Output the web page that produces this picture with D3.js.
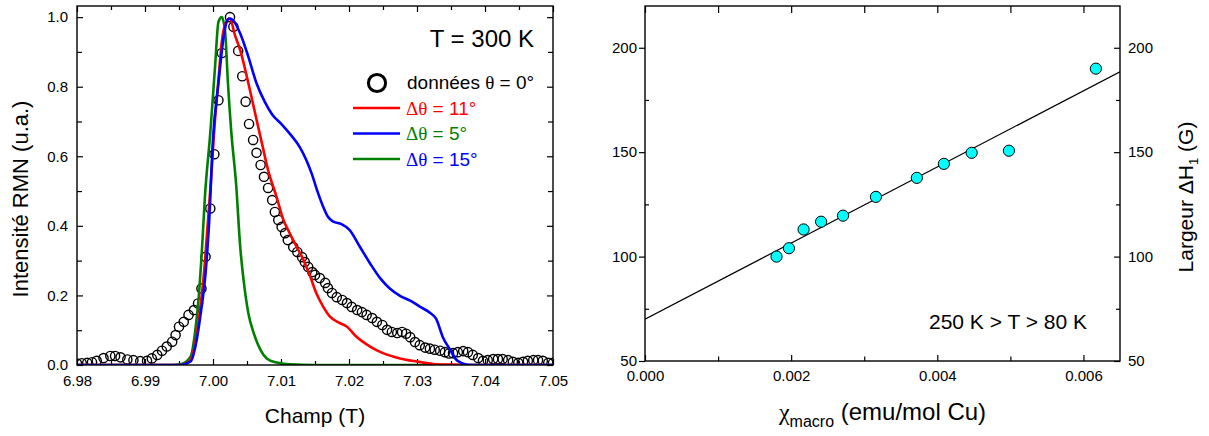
<!DOCTYPE html>
<html>
<head>
<meta charset="utf-8">
<script src="https://cdn.jsdelivr.net/npm/d3@7"></script>
<style>
  html, body { margin: 0; padding: 0; background: #fff; }
  svg { display: block; }
  text { font-family: "Liberation Sans", Arial, sans-serif; fill: #000; }
</style>
</head>
<body>
<script>
// ---------------- DATA (left panel: NMR spectrum at T = 300 K) ----------------
const fieldTicks = [6.98, 6.99, 7.00, 7.01, 7.02, 7.03, 7.04, 7.05];
const fieldMinorTicks = [6.985, 6.995, 7.005, 7.015, 7.025, 7.035, 7.045];
const intensityTicks = [0, 0.2, 0.4, 0.6, 0.8, 1.0];
const intensityMinorTicks = [0.1, 0.3, 0.5, 0.7, 0.9];

const dataField = [6.9800,6.9807,6.9815,6.9822,6.9829,6.9839,6.9849,6.9856,6.9864,6.9874,6.9883,6.9893,6.9903,6.9910,6.9918,6.9925,6.9932,6.9940,6.9945,6.9950,6.9957,6.9964,6.9972,6.9978,6.9983,6.9989,6.9996,7.0002,7.0008,7.0013,7.0025,7.0030,7.0037,7.0043,7.0048,7.0053,7.0059,7.0064,7.0070,7.0075,7.0081,7.0087,7.0091,7.0096,7.0101,7.0106,7.0110,7.0118,7.0124,7.0131,7.0135,7.0140,7.0146,7.0150,7.0157,7.0165,7.0169,7.0175,7.0182,7.0190,7.0197,7.0204,7.0212,7.0219,7.0226,7.0234,7.0241,7.0249,7.0256,7.0263,7.0271,7.0278,7.0284,7.0290,7.0297,7.0304,7.0312,7.0319,7.0326,7.0334,7.0341,7.0347,7.0353,7.0360,7.0368,7.0375,7.0382,7.0390,7.0397,7.0404,7.0412,7.0419,7.0426,7.0434,7.0441,7.0449,7.0456,7.0463,7.0471,7.0478,7.0485,7.0493,7.0500];
const dataIntensity = [0.004,0.005,0.006,0.008,0.012,0.020,0.026,0.026,0.022,0.016,0.014,0.011,0.012,0.019,0.029,0.041,0.053,0.067,0.086,0.110,0.124,0.144,0.158,0.177,0.220,0.311,0.450,0.606,0.761,0.897,1.000,0.972,0.903,0.830,0.757,0.693,0.647,0.610,0.575,0.541,0.509,0.474,0.440,0.417,0.397,0.379,0.359,0.339,0.325,0.310,0.296,0.282,0.267,0.259,0.250,0.236,0.221,0.207,0.195,0.187,0.178,0.167,0.158,0.152,0.144,0.135,0.124,0.115,0.101,0.095,0.092,0.095,0.090,0.080,0.066,0.057,0.050,0.047,0.044,0.041,0.037,0.033,0.034,0.037,0.040,0.037,0.029,0.020,0.012,0.014,0.017,0.017,0.017,0.014,0.009,0.006,0.009,0.012,0.014,0.014,0.012,0.006,0.006];

const redField = [6.9800,6.9951,6.9965,6.9975,6.9981,6.9987,6.9992,6.9997,7.0002,7.0008,7.0013,7.0019,7.0025,7.0032,7.0040,7.0052,7.0062,7.0072,7.0081,7.0094,7.0103,7.0113,7.0123,7.0133,7.0143,7.0152,7.0162,7.0172,7.0187,7.0197,7.0211,7.0231,7.0250,7.0275,7.0300,7.0324,7.0349,7.0378,7.0500];
const redIntensity = [0,0,0.010,0.075,0.16,0.27,0.40,0.53,0.68,0.82,0.93,0.985,0.996,0.95,0.905,0.81,0.723,0.637,0.56,0.48,0.42,0.378,0.34,0.302,0.254,0.206,0.168,0.139,0.12,0.11,0.081,0.053,0.034,0.019,0.01,0.003,0.001,0,0];

const blueField = [6.9800,6.9951,6.9967,6.9976,6.9982,6.9989,6.9994,7.0000,7.0008,7.0015,7.0020,7.0024,7.0030,7.0040,7.0052,7.0064,7.0076,7.0087,7.0101,7.0115,7.0128,7.0137,7.0145,7.0154,7.0162,7.0169,7.0177,7.0189,7.0201,7.0216,7.0231,7.0246,7.0260,7.0275,7.0290,7.0304,7.0319,7.0328,7.0338,7.0349,7.0356,7.0366,7.0378,7.0500];
const blueIntensity = [0,0,0.010,0.072,0.149,0.263,0.40,0.65,0.81,0.934,0.986,0.996,0.99,0.953,0.886,0.81,0.757,0.72,0.692,0.66,0.625,0.59,0.551,0.497,0.455,0.426,0.412,0.405,0.388,0.34,0.292,0.249,0.22,0.199,0.185,0.168,0.150,0.133,0.08,0.043,0.019,0.005,0,0];

const greenField = [6.9800,6.9940,6.9952,6.9967,6.9974,6.9979,6.9984,6.9988,6.9996,7.0003,7.0008,7.0013,7.0018,7.0022,7.0027,7.0034,7.0040,7.0045,7.0052,7.0060,7.0070,7.0079,7.0094,7.0113,7.0150,7.0500];
const greenIntensity = [0,0,0.002,0.024,0.10,0.196,0.34,0.48,0.667,0.857,0.986,1.0,0.953,0.81,0.667,0.52,0.34,0.244,0.149,0.091,0.043,0.019,0.007,0.002,0,0];

// ---------------- DATA (right panel: linewidth vs chi) ----------------
const chiTicks = [0, 0.002, 0.004, 0.006];
const chiMinorTicks = [0.001, 0.003, 0.005];
const widthTicks = [50, 100, 150, 200];
const widthMinorTicks = [75, 125, 175];

const chiValues = [0.00180, 0.00197, 0.00217, 0.00241, 0.00271, 0.00316, 0.00372, 0.00409, 0.00447, 0.00498, 0.00617];
const widthValues = [100, 104, 113, 116.7, 119.6, 128.6, 137.7, 144.4, 149.7, 150.7, 190];
const fitChi = [0, 0.0065];
const fitWidth = [70, 188.5];

// ---------------- LAYOUT ----------------
const W = 1209, H = 436;
const svg = d3.select("body").append("svg").attr("width", W).attr("height", H);

const L = { left: 77, right: 553, top: 6, bottom: 365 };
const R = { left: 645, right: 1120, top: 6, bottom: 361 };

const xL = d3.scaleLinear().domain([6.98, 7.05]).range([L.left, L.right]);
const yL = d3.scaleLinear().domain([0, 1.032]).range([L.bottom, L.top]);
const xR = d3.scaleLinear().domain([0, 0.0065]).range([R.left, R.right]);
const yR = d3.scaleLinear().domain([50, 220]).range([R.bottom, R.top]);

const tickFont = 15;

function styleAxis(g) {
  g.select(".domain").remove();
  g.selectAll(".tick line").attr("stroke", "#000").attr("stroke-width", 1.2);
  g.selectAll(".tick text").attr("font-size", tickFont).attr("fill", "#000")
    .attr("font-family", '"Liberation Sans", Arial, sans-serif');
}

// ---------- LEFT PANEL ----------
const gL = svg.append("g");
gL.append("defs").append("clipPath").attr("id", "clipL").append("rect")
  .attr("x", L.left).attr("y", L.top).attr("width", L.right - L.left).attr("height", L.bottom - L.top);

// axes
gL.append("g").attr("transform", `translate(0,${L.bottom})`)
  .call(d3.axisBottom(xL).tickValues(fieldTicks).tickSize(-6).tickPadding(10).tickFormat(d3.format(".2f"))).call(styleAxis);
gL.append("g").attr("transform", `translate(0,${L.bottom})`)
  .call(d3.axisBottom(xL).tickValues(fieldMinorTicks).tickSize(-4).tickFormat("")).call(styleAxis);
gL.append("g").attr("transform", `translate(0,${L.top})`)
  .call(d3.axisTop(xL).tickValues(fieldTicks).tickSize(-6).tickFormat("")).call(styleAxis);
gL.append("g").attr("transform", `translate(0,${L.top})`)
  .call(d3.axisTop(xL).tickValues(fieldMinorTicks).tickSize(-4).tickFormat("")).call(styleAxis);
gL.append("g").attr("transform", `translate(${L.left},0)`)
  .call(d3.axisLeft(yL).tickValues(intensityTicks).tickSize(-6).tickPadding(9).tickFormat(d3.format(".1f"))).call(styleAxis);
gL.append("g").attr("transform", `translate(${L.left},0)`)
  .call(d3.axisLeft(yL).tickValues(intensityMinorTicks).tickSize(-5).tickFormat("")).call(styleAxis);
gL.append("g").attr("transform", `translate(${L.right},0)`)
  .call(d3.axisRight(yL).tickValues(intensityTicks).tickSize(-6).tickFormat("")).call(styleAxis);
gL.append("g").attr("transform", `translate(${L.right},0)`)
  .call(d3.axisRight(yL).tickValues(intensityMinorTicks).tickSize(-5).tickFormat("")).call(styleAxis);

const plotL = gL.append("g").attr("clip-path", "url(#clipL)");

// data circles
plotL.append("g").selectAll("circle")
  .data(dataField.map((f, i) => [f, dataIntensity[i]]))
  .join("circle")
  .attr("cx", d => xL(d[0])).attr("cy", d => yL(d[1])).attr("r", 4.6)
  .attr("fill", "none").attr("stroke", "#000").attr("stroke-width", 1.4);

const lineL = d3.line().x(d => xL(d[0])).y(d => yL(d[1])).curve(d3.curveMonotoneX);
const curves = [
  { f: greenField, v: greenIntensity, c: "#008000" },
  { f: redField, v: redIntensity, c: "#ff0000" },
  { f: blueField, v: blueIntensity, c: "#0000ff" }
];
curves.forEach(cv => {
  plotL.append("path").datum(cv.f.map((f, i) => [f, cv.v[i]]))
    .attr("d", lineL).attr("fill", "none").attr("stroke", cv.c).attr("stroke-width", 2.6)
    .attr("stroke-linejoin", "round");
});

gL.append("rect").attr("x", L.left).attr("y", L.top).attr("width", L.right - L.left).attr("height", L.bottom - L.top)
  .attr("fill", "none").attr("stroke", "#000").attr("stroke-width", 1.4);

// annotations / legend
gL.append("text").attr("x", 534).attr("y", 47).attr("text-anchor", "end").attr("font-size", 24).text("T = 300 K");

gL.append("circle").attr("cx", 377).attr("cy", 83).attr("r", 8.6).attr("fill", "none").attr("stroke", "#000").attr("stroke-width", 3);
const t0 = gL.append("text").attr("x", 407).attr("y", 89).attr("font-size", 19);
t0.append("tspan").text("données ");
t0.append("tspan").attr("font-family", '"Liberation Serif", "Times New Roman", serif').text("θ");
t0.append("tspan").text(" = 0°");

const legendItems = [
  { line: "#ff0000", text: "#ff0000", label: " = 11°", y: 108 },
  { line: "#0000ff", text: "#008000", label: " = 5°", y: 133.5 },
  { line: "#008000", text: "#0000ff", label: " = 15°", y: 159 }
];
legendItems.forEach(it => {
  gL.append("line").attr("x1", 353).attr("x2", 400).attr("y1", it.y).attr("y2", it.y)
    .attr("stroke", it.line).attr("stroke-width", 2.6);
  const t = gL.append("text").attr("x", 406).attr("y", it.y + 6.5).attr("font-size", 19).style("fill", it.text);
  t.append("tspan").attr("font-family", '"Liberation Serif", "Times New Roman", serif').style("fill", it.text).text("Δθ");
  t.append("tspan").style("fill", it.text).text(it.label);
});

gL.append("text").attr("x", (L.left + L.right) / 2).attr("y", 423).attr("text-anchor", "middle").attr("font-size", 21).text("Champ (T)");
gL.append("text").attr("transform", "translate(28,199) rotate(-90)").attr("text-anchor", "middle").attr("font-size", 22).text("Intensité RMN (u.a.)");

// ---------- RIGHT PANEL ----------
const gR = svg.append("g");
gR.append("g").attr("transform", `translate(0,${R.bottom})`)
  .call(d3.axisBottom(xR).tickValues(chiTicks).tickSize(-6).tickPadding(9).tickFormat(d3.format(".3f"))).call(styleAxis);
gR.append("g").attr("transform", `translate(0,${R.bottom})`)
  .call(d3.axisBottom(xR).tickValues(chiMinorTicks).tickSize(-4.5).tickFormat("")).call(styleAxis);
gR.append("g").attr("transform", `translate(0,${R.top})`)
  .call(d3.axisTop(xR).tickValues(chiTicks.concat(chiMinorTicks)).tickSize(-7).tickFormat("")).call(styleAxis);
gR.append("g").attr("transform", `translate(${R.left},0)`)
  .call(d3.axisLeft(yR).tickValues(widthTicks).tickSize(6).tickPadding(2).tickFormat(d3.format("d"))).call(styleAxis);
gR.append("g").attr("transform", `translate(${R.left},0)`)
  .call(d3.axisLeft(yR).tickValues(widthMinorTicks).tickSize(-4).tickFormat("")).call(styleAxis);
gR.append("g").attr("transform", `translate(${R.right},0)`)
  .call(d3.axisRight(yR).tickValues(widthTicks).tickSize(-6).tickPadding(8).tickFormat(d3.format("d"))).call(styleAxis);
gR.selectAll("g").filter(function () { return false; });
gR.append("g").attr("transform", `translate(${R.right},0)`)
  .call(d3.axisRight(yR).tickValues(widthMinorTicks).tickSize(-4).tickFormat("")).call(styleAxis);

// fix right-axis label position (negative tick size puts text at padding)
gR.append("defs").append("clipPath").attr("id", "clipR").append("rect")
  .attr("x", R.left).attr("y", R.top).attr("width", R.right - R.left).attr("height", R.bottom - R.top);
const plotR = gR.append("g").attr("clip-path", "url(#clipR)");

plotR.append("path").datum(fitChi.map((c, i) => [c, fitWidth[i]]))
  .attr("d", d3.line().x(d => xR(d[0])).y(d => yR(d[1])))
  .attr("fill", "none").attr("stroke", "#000").attr("stroke-width", 1.2);

plotR.append("g").selectAll("circle")
  .data(chiValues.map((c, i) => [c, widthValues[i]]))
  .join("circle")
  .attr("cx", d => xR(d[0])).attr("cy", d => yR(d[1])).attr("r", 5.6)
  .attr("fill", "#00ffff").attr("stroke", "#000").attr("stroke-width", 1);

gR.append("rect").attr("x", R.left).attr("y", R.top).attr("width", R.right - R.left).attr("height", R.bottom - R.top)
  .attr("fill", "none").attr("stroke", "#000").attr("stroke-width", 1.4);

gR.append("text").attr("x", 929).attr("y", 329).attr("font-size", 21).text("250 K > T > 80 K");

const xt = gR.append("text").attr("x", (R.left + R.right) / 2).attr("y", 420).attr("text-anchor", "middle").attr("font-size", 24);
xt.append("tspan").attr("font-family", '"Liberation Serif", "Times New Roman", serif').text("χ");
xt.append("tspan").attr("font-size", 16).attr("dy", 7).text("macro");
xt.append("tspan").attr("dy", -7).text(" (emu/mol Cu)");

const yt = gR.append("text").attr("transform", "translate(1193,197) rotate(-90)").attr("text-anchor", "middle").attr("font-size", 21);
yt.append("tspan").text("Largeur ΔH");
yt.append("tspan").attr("font-size", 13).attr("dy", 5).text("1");
yt.append("tspan").attr("dy", -5).text(" (G)");
</script>
</body>
</html>
